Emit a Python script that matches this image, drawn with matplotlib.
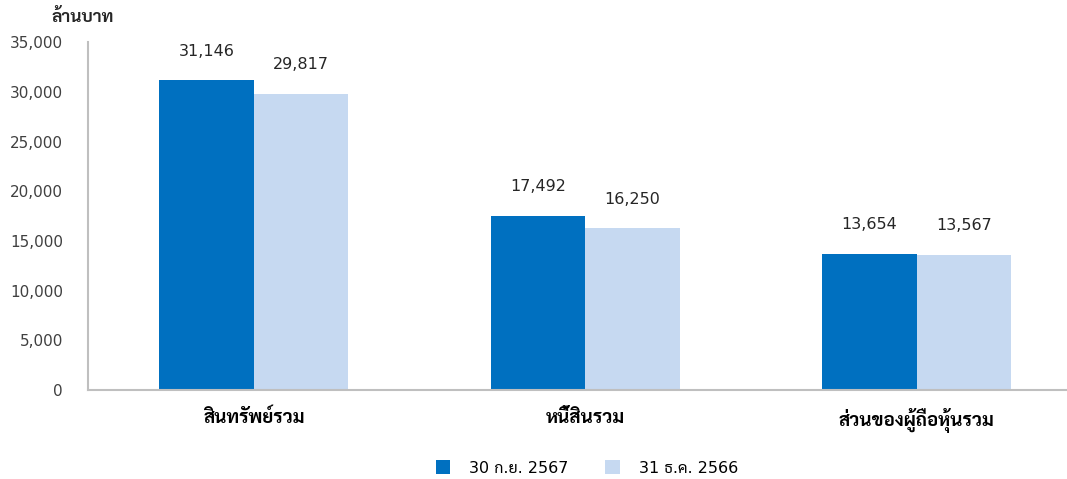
import numpy as np
import matplotlib
matplotlib.use("Agg")
import matplotlib.pyplot as plt
from matplotlib.ticker import FuncFormatter

plt.rcParams['font.family'] = ['DejaVu Sans', 'Sarabun', 'Noto Sans Thai']

categories = ["สินทรัพย์รวม", "หนี้สินรวม", "ส่วนของผู้ถือหุ้นรวม"]
series_names = ["30 ก.ย. 2567", "31 ธ.ค. 2566"]
sep_2567 = [31146, 17492, 13654]
dec_2566 = [29817, 16250, 13567]
colors = ["#0070C0", "#C6D9F1"]

fig = plt.figure(figsize=(10.67, 4.79), dpi=100)
ax = fig.add_axes([0.0825, 0.186, 0.9165, 0.726])

x = np.arange(len(categories))
w = 0.285
b1 = ax.bar(x - w / 2, sep_2567, w, color=colors[0], label=series_names[0])
b2 = ax.bar(x + w / 2, dec_2566, w, color=colors[1], label=series_names[1])

for bars in (b1, b2):
    for r in bars:
        ax.text(r.get_x() + r.get_width() / 2, r.get_height() + 2200,
                f"{int(r.get_height()):,}", ha="center", va="bottom",
                fontsize=11.5, color="#262626")

ax.set_xlim(-0.5, 2.45)
ax.set_ylim(0, 35000)
ax.set_yticks(np.arange(0, 35001, 5000))
ax.yaxis.set_major_formatter(FuncFormatter(lambda v, p: f"{int(v):,}"))
ax.set_xticks(x)
ax.set_xticklabels(categories, fontsize=13.5, fontweight="bold", color="#000000")
ax.tick_params(axis="y", labelsize=11, colors="#404040", length=0, pad=18)
ax.tick_params(axis="x", length=0, pad=13)
for s in ("top", "right"):
    ax.spines[s].set_visible(False)
for s in ("left", "bottom"):
    ax.spines[s].set_color("#BFBFBF")
    ax.spines[s].set_linewidth(1.5)

fig.text(0.077, 0.965, "ล้านบาท", ha="center", va="center", fontsize=12.5,
         fontweight="bold", color="#262626")

fig.legend(handles=[b1, b2], loc="center", bbox_to_anchor=(0.55, 0.023),
           ncol=2, frameon=False, fontsize=11.5, handlelength=0.9,
           handleheight=0.9, columnspacing=2.3, handletextpad=1.2)

fig.savefig("out.png", dpi=100)
